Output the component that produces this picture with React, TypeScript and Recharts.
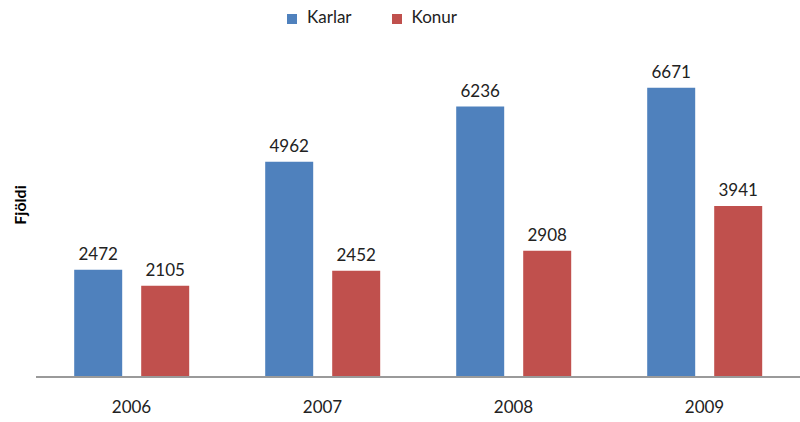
import { BarChart, Bar, XAxis, YAxis, Legend, LabelList } from "recharts";

const years = ["2006", "2007", "2008", "2009"];
const karlar = [2472, 4962, 6236, 6671];
const konur = [2105, 2452, 2908, 3941];

const data = years.map((year, i) => ({ year, karlar: karlar[i], konur: konur[i] }));

const BLUE = "#4F81BD";
const RED = "#C0504D";
const FONT = "Lato, 'Open Sans', sans-serif";

function YLabel() {
  return (
    <text
      x={19}
      y={205}
      transform="rotate(-90 19 205)"
      textAnchor="middle"
      dominantBaseline="central"
      fontSize={16}
      fontWeight={700}
      fill="#000"
      fontFamily={FONT}
    >
      Fjöldi
    </text>
  );
}

export default function App() {
  return (
    <div style={{ position: "absolute", left: 0, top: 0, background: "#fff" }}>
      <BarChart
        width={800}
        height={422}
        data={data}
        margin={{ top: 6, right: 0, bottom: 0, left: 0 }}
        barCategoryGap="20%"
        barGap={19}
      >
        <Legend
          verticalAlign="top"
          align="center"
          iconType="square"
          iconSize={10}
          height={24}
          wrapperStyle={{ fontFamily: FONT, fontSize: 17, color: "#222", left: -8 }}
          formatter={(value) => <span style={{ color: "#222", marginLeft: 6, marginRight: 30 }}>{value}</span>}
        />
        <XAxis
          dataKey="year"
          height={45}
          tickLine={false}
          axisLine={{ stroke: "#9a9a9a", strokeWidth: 2 }}
          tickMargin={18}
          tick={{ fontSize: 17, fill: "#222", fontFamily: FONT }}
        />
        <YAxis width={36} domain={[0, 8000]} tick={false} axisLine={false} tickLine={false} label={<YLabel />} />
        <Bar dataKey="karlar" name="Karlar" fill={BLUE} isAnimationActive={false}>
          <LabelList dataKey="karlar" position="top" offset={10} fill="#222" fontSize={17} fontFamily={FONT} />
        </Bar>
        <Bar dataKey="konur" name="Konur" fill={RED} isAnimationActive={false}>
          <LabelList dataKey="konur" position="top" offset={10} fill="#222" fontSize={17} fontFamily={FONT} />
        </Bar>
      </BarChart>
    </div>
  );
}
